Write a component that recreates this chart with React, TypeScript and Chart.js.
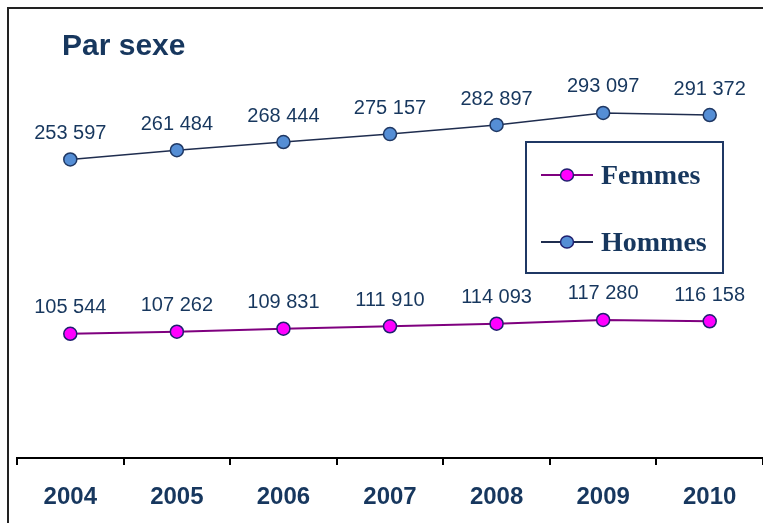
import React, { useEffect, useRef } from "react";
import { Chart, registerables } from "chart.js";

Chart.register(...registerables);

const years = ["2004", "2005", "2006", "2007", "2008", "2009", "2010"];
const femmes = [105544, 107262, 109831, 111910, 114093, 117280, 116158];
const hommes = [253597, 261484, 268444, 275157, 282897, 293097, 291372];
const seriesNames = ["Femmes", "Hommes"];
const titleText = "Par sexe";

const NAVY = "#17375E";
const fmt = (v: number) => {
  const s = String(v);
  return s.replace(/\B(?=(\d{3})+(?!\d))/g, " ");
};

const decorPlugin = {
  id: "decor",
  beforeDraw(chart: any) {
    const ctx = chart.ctx;
    ctx.save();
    ctx.fillStyle = "#fff";
    ctx.fillRect(0, 0, chart.width, chart.height);
    ctx.strokeStyle = "#222";
    ctx.lineWidth = 2;
    ctx.beginPath();
    ctx.moveTo(8, chart.height);
    ctx.lineTo(8, 8);
    ctx.lineTo(chart.width, 8);
    ctx.stroke();
    ctx.fillStyle = NAVY;
    ctx.font = 'bold 30px "Liberation Sans", Arial, sans-serif';
    ctx.textBaseline = "alphabetic";
    ctx.textAlign = "left";
    ctx.fillText(titleText, 62, 55);
    ctx.restore();
  },
  afterDatasetsDraw(chart: any) {
    const ctx = chart.ctx;
    ctx.save();
    ctx.fillStyle = NAVY;
    ctx.font = '20px "Liberation Sans", Arial, sans-serif';
    ctx.textAlign = "center";
    ctx.textBaseline = "middle";
    chart.data.datasets.forEach((ds: any, i: number) => {
      const meta = chart.getDatasetMeta(i);
      meta.data.forEach((pt: any, j: number) => {
        ctx.fillText(fmt(ds.data[j]), pt.x, pt.y - 26);
      });
    });
    // legend
    const bx = 526, by = 142, bw = 197, bh = 131;
    ctx.strokeStyle = "#1F3864";
    ctx.lineWidth = 2;
    ctx.strokeRect(bx, by, bw, bh);
    const entries = [
      { name: seriesNames[0], line: "#7F007F", fill: "#FF00FF", y: 175 },
      { name: seriesNames[1], line: "#1F2D4F", fill: "#558ED5", y: 242 },
    ];
    entries.forEach((e) => {
      ctx.strokeStyle = e.line;
      ctx.lineWidth = 2;
      ctx.beginPath();
      ctx.moveTo(541, e.y);
      ctx.lineTo(593, e.y);
      ctx.stroke();
      ctx.beginPath();
      ctx.ellipse(567, e.y, 6.5, 6, 0, 0, Math.PI * 2);
      ctx.fillStyle = e.fill;
      ctx.fill();
      ctx.strokeStyle = "#1F1F6F";
      ctx.lineWidth = 1.5;
      ctx.stroke();
      ctx.fillStyle = NAVY;
      ctx.font = 'bold 28px "Liberation Serif", "Times New Roman", serif';
      ctx.textAlign = "left";
      ctx.textBaseline = "alphabetic";
      ctx.fillText(e.name, 601, e.y + 9);
    });
    ctx.restore();
  },
};

export default function App() {
  const ref = useRef<HTMLCanvasElement>(null);
  useEffect(() => {
    if (!ref.current) return;
    const chart = new Chart(ref.current, {
      type: "line",
      data: {
        labels: years,
        datasets: [
          {
            label: seriesNames[0],
            data: femmes,
            borderColor: "#7F007F",
            borderWidth: 2,
            pointBackgroundColor: "#FF00FF",
            pointBorderColor: "#1F1F6F",
            pointBorderWidth: 1.5,
            pointRadius: 6.5,
            tension: 0,
            clip: false,
          },
          {
            label: seriesNames[1],
            data: hommes,
            borderColor: "#1F2D4F",
            borderWidth: 1.5,
            pointBackgroundColor: "#558ED5",
            pointBorderColor: "#1F3864",
            pointBorderWidth: 1.5,
            pointRadius: 6.5,
            tension: 0,
            clip: false,
          },
        ],
      },
      options: {
        animation: false,
        responsive: false,
        maintainAspectRatio: false,
        layout: { autoPadding: false, padding: { top: 46, left: 17, right: 0, bottom: 0 } },
        plugins: {
          legend: { display: false },
          tooltip: { enabled: false },
          title: { display: false },
        },
        scales: {
          x: {
            type: "category",
            offset: true,
            grid: {
              offset: true,
              drawOnChartArea: false,
              drawTicks: true,
              tickLength: 7,
              color: "#000",
              lineWidth: 2,
            },
            border: { display: true, color: "#000", width: 2 },
            ticks: {
              color: NAVY,
              font: { family: '"Liberation Sans", Arial, sans-serif', size: 24, weight: "bold" },
              padding: 18,
              maxRotation: 0,
              autoSkip: false,
            },
            afterFit: (s: any) => {
              s.height = 65;
              s.paddingLeft = 0;
              s.paddingRight = 0;
            },
          },
          y: {
            display: false,
            min: 0,
            max: 350000,
          },
        },
      },
      plugins: [decorPlugin],
    });
    return () => chart.destroy();
  }, []);
  return (
    <div style={{ position: "fixed", left: 0, top: 0, width: 763, height: 523, background: "#fff" }}>
      <canvas ref={ref} width={763} height={523} style={{ width: 763, height: 523, display: "block" }} />
    </div>
  );
}
